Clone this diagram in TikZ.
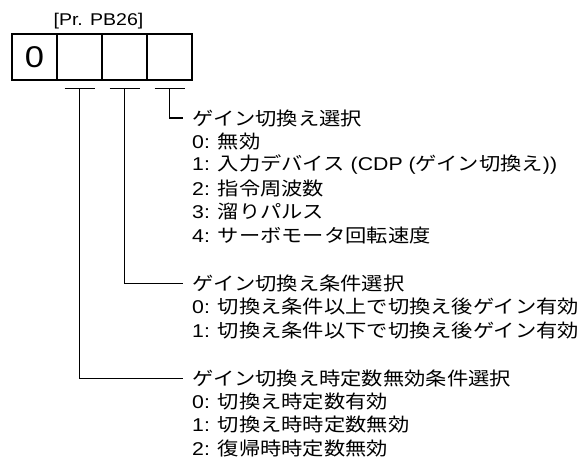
\documentclass[tikz,border=0pt]{standalone}
\usepackage{fontspec}
\setmainfont{Liberation Sans}[FakeStretch=1.15]
\newfontfamily\jpfont{Noto Sans CJK JP}[FakeStretch=1.15]
\newcommand\J[1]{{\jpfont #1}}
\begin{document}
\begin{tikzpicture}[x=1pt,y=-1pt,
  cell/.style={draw, line width=1.2pt, minimum width=45pt, minimum height=46pt, inner sep=0pt},
  conn/.style={line width=1.2pt},
  txt/.style={anchor=west, inner sep=0pt, font=\fontsize{18.5}{22}\selectfont}]
\useasboundingbox (0,0) rectangle (579,461);
\node[font=\fontsize{17}{20}\selectfont, inner sep=0pt] (lbl) at (98.5,21) {[Pr. PB26]};
\node[cell, font=\fontsize{30}{34}\selectfont] (c1) at (34.5,57) {0};
\node[cell] (c2) at (79.5,57) {};
\node[cell] (c3) at (124.5,57) {};
\node[cell] (c4) at (169.5,57) {};
\coordinate (b2) at ([yshift=-7.5pt]c2.south);
\coordinate (b3) at ([yshift=-7.5pt]c3.south);
\coordinate (b4) at ([yshift=-7.5pt]c4.south);
\foreach \b in {b2,b3,b4}
  \draw[conn] ([xshift=-15pt]\b) -- ([xshift=15pt]\b);
% group 1
\node[txt] (h1) at (192,118) {\J{ゲイン切換え選択}};
\node[txt] (g1a) at (192,141.7) {0: \J{無効}};
\node[txt] (g1b) at (192,165) {1: \J{入力デバイス} (CDP (\J{ゲイン切換え}))};
\node[txt] (g1c) at (192,188.3) {2: \J{指令周波数}};
\node[txt] (g1d) at (192,211.7) {3: \J{溜りパルス}};
\node[txt] (g1e) at (192,235) {4: \J{サーボモータ回転速度}};
% group 2
\node[txt] (h2) at (192,283.3) {\J{ゲイン切換え条件選択}};
\node[txt] (g2a) at (192,306.7) {0: \J{切換え条件以上で切換え後ゲイン有効}};
\node[txt] (g2b) at (192,330) {1: \J{切換え条件以下で切換え後ゲイン有効}};
% group 3
\node[txt] (h3) at (192,378.3) {\J{ゲイン切換え時定数無効条件選択}};
\node[txt] (g3a) at (192,401.7) {0: \J{切換え時定数有効}};
\node[txt] (g3b) at (192,425) {1: \J{切換え時時定数無効}};
\node[txt] (g3c) at (192,448.3) {2: \J{復帰時時定数無効}};
% connectors
\draw[conn] (b4) |- ([xshift=-9pt]h1.west);
\draw[conn] (b3) |- ([xshift=-9pt]h2.west);
\draw[conn] (b2) |- ([xshift=-9pt]h3.west);
\end{tikzpicture}
\end{document}
